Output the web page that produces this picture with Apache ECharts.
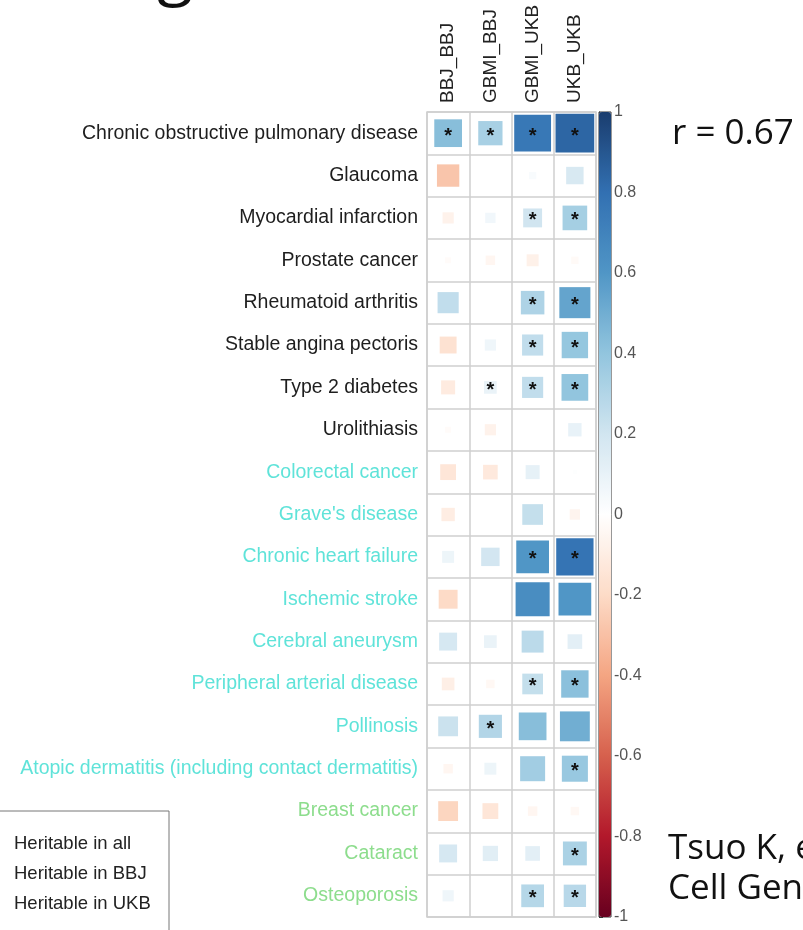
<!DOCTYPE html>
<html><head><meta charset="utf-8">
<script src="https://cdn.jsdelivr.net/npm/echarts@6/dist/echarts.min.js"></script>
<style>html,body{margin:0;padding:0;background:#fff;}#c{width:803px;height:930px;}</style>
</head><body><div id="c"></div>
<script>
const traits = ['Chronic obstructive pulmonary disease','Glaucoma','Myocardial infarction','Prostate cancer',
  'Rheumatoid arthritis','Stable angina pectoris','Type 2 diabetes','Urolithiasis','Colorectal cancer',
  "Grave's disease",'Chronic heart failure','Ischemic stroke','Cerebral aneurysm','Peripheral arterial disease',
  'Pollinosis','Atopic dermatitis (including contact dermatitis)','Breast cancer','Cataract','Osteoporosis'];
const traitGroup = ['all','all','all','all','all','all','all','all','bbj','bbj','bbj','bbj','bbj','bbj','bbj','bbj','ukb','ukb','ukb'];
const cohorts = ['BBJ_BBJ','GBMI_BBJ','GBMI_UKB','UKB_UKB'];
const bbjBbj  = [0.43,-0.28,-0.07,-0.02,0.25,-0.16,-0.11,-0.02,-0.14,-0.10,0.08,-0.20,0.18,-0.09,0.22,-0.05,-0.22,0.18,0.07];
const gbmiBbj = [0.33,0,0.06,-0.05,0,0.07,0.09,-0.07,-0.12,0,0.19,0,0.09,-0.04,0.30,0.08,-0.14,0.13,0];
const gbmiUkb = [0.76,0.03,0.20,-0.08,0.31,0.25,0.25,0,0.11,0.24,0.60,0.65,0.27,0.24,0.43,0.35,-0.05,0.12,0.29];
const ukbUkb  = [0.84,0.17,0.34,-0.03,0.54,0.39,0.40,0.10,0.01,-0.06,0.78,0.60,0.12,0.42,0.50,0.38,-0.04,0.32,0.28];
const starBbjBbj  = [0];
const starGbmiBbj = [0,6,14];
const starGbmiUkb = [0,2,4,5,6,10,13,18];
const starUkbUkb  = [0,2,4,5,6,10,13,15,17,18];
const corrR = 'r = 0.67';
const citation = ['Tsuo K, et al.','Cell Genomics'];
const legendItems = ['Heritable in all','Heritable in BBJ','Heritable in UKB'];

const groupColor = {all:'#1e1e1e', bbj:'#5fe3d9', ukb:'#8ddd8d'};
const cols = [bbjBbj, gbmiBbj, gbmiUkb, ukbUkb];
const stars = [starBbjBbj, starGbmiBbj, starGbmiUkb, starUkbUkb];
const data = [];
cols.forEach((arr, ci) => arr.forEach((v, ri) => data.push([ci, ri, v, stars[ci].includes(ri) ? 1 : 0])));

const chart = echarts.init(document.getElementById('c'));
const G = {left:427, top:112, width:169, height:805};
chart.setOption({
  animation:false,
  backgroundColor:'#fff',
  grid:[
    {left:G.left, top:G.top, width:G.width, height:G.height, show:true, borderColor:'#cfcfcf', borderWidth:1.5, backgroundColor:'transparent'},
    {left:599, top:112, width:12, height:805, show:true, borderColor:'#333', borderWidth:1, backgroundColor:'transparent'}
  ],
  xAxis:[
    {type:'category', data:cohorts, position:'top', gridIndex:0,
     axisLine:{show:false}, axisTick:{show:false},
     splitLine:{show:true, interval:0, lineStyle:{color:'#cfcfcf', width:1.5}},
     axisLabel:{rotate:-90, fontSize:19, fontFamily:'Liberation Sans', color:'#222', margin:9}},
    {type:'value', gridIndex:1, show:false, min:0, max:1}
  ],
  yAxis:[
    {type:'category', data:traits, inverse:true, gridIndex:0,
     axisLine:{show:false}, axisTick:{show:false},
     splitLine:{show:true, interval:0, lineStyle:{color:'#cfcfcf', width:1.5}},
     axisLabel:{fontSize:19.5, fontFamily:'Liberation Sans', margin:9,
       color:(val, idx) => groupColor[traitGroup[idx !== undefined ? idx : traits.indexOf(val)]]}},
    {type:'value', gridIndex:1, min:-1, max:1, interval:0.2, position:'right',
     axisLine:{show:true, lineStyle:{color:'#333'}}, axisTick:{show:true, length:4, lineStyle:{color:'#333'}},
     splitLine:{show:false},
     axisLabel:{fontSize:16, fontFamily:'Liberation Sans', color:'#555', margin:3}}
  ],
  visualMap:{type:'continuous', min:-1, max:1, dimension:2, seriesIndex:0, orient:'vertical',
    left:594, top:107, padding:5, itemWidth:12, itemHeight:805, calculable:false, hoverLink:false,
    inRange:{color:['#67001F','#B2182B','#D6604D','#F4A582','#FDDBC7','#FFFFFF','#D1E5F0','#92C5DE','#5096c6','#3270b2','#1a3d6e']}},
  series:[
    {type:'custom', xAxisIndex:0, yAxisIndex:0, data:data, encode:{x:0, y:1},
     renderItem:(params, api) => {
       const x = api.value(0), y = api.value(1), v = api.value(2), st = api.value(3);
       const c = api.coord([x, y]);
       const s = api.size([1, 1]);
       const side = Math.sqrt(Math.abs(v)) * Math.min(s[0], s[1]);
       const children = [];
       if (side > 0) children.push({type:'rect', shape:{x:c[0]-side/2, y:c[1]-side/2, width:side, height:side},
         style:{fill:api.visual('color')}});
       if (st) children.push({type:'text', x:c[0], y:c[1]+3,
         style:{text:'*', fill:'#111', font:'bold 20px "Liberation Sans"', align:'center', verticalAlign:'middle'}});
       return {type:'group', children};
     }},
    {type:'scatter', xAxisIndex:1, yAxisIndex:1, data:[], silent:true}
  ],
  graphic:[
    {type:'text', x:157, y:-27, style:{text:'g', font:'66px "Open Sans"', fill:'#111', verticalAlign:'middle'}},
    {type:'text', x:672, y:134, style:{text:corrR, font:'35px "Open Sans"', fill:'#111', verticalAlign:'middle'}},
    {type:'text', x:668, y:849, style:{text:citation[0], font:'35px "Open Sans"', fill:'#111', verticalAlign:'middle'}},
    {type:'text', x:668, y:889, style:{text:citation[1], font:'35px "Open Sans"', fill:'#111', verticalAlign:'middle'}},
    {type:'rect', shape:{x:-1, y:811, width:170, height:160}, style:{fill:'#fff', stroke:'#777', lineWidth:1}},
    {type:'text', x:14, y:844, style:{text:legendItems[0], font:'18.5px "Liberation Sans"', fill:'#222', verticalAlign:'middle'}},
    {type:'text', x:14, y:874, style:{text:legendItems[1], font:'18.5px "Liberation Sans"', fill:'#222', verticalAlign:'middle'}},
    {type:'text', x:14, y:904, style:{text:legendItems[2], font:'18.5px "Liberation Sans"', fill:'#222', verticalAlign:'middle'}}
  ]
});
</script></body></html>
